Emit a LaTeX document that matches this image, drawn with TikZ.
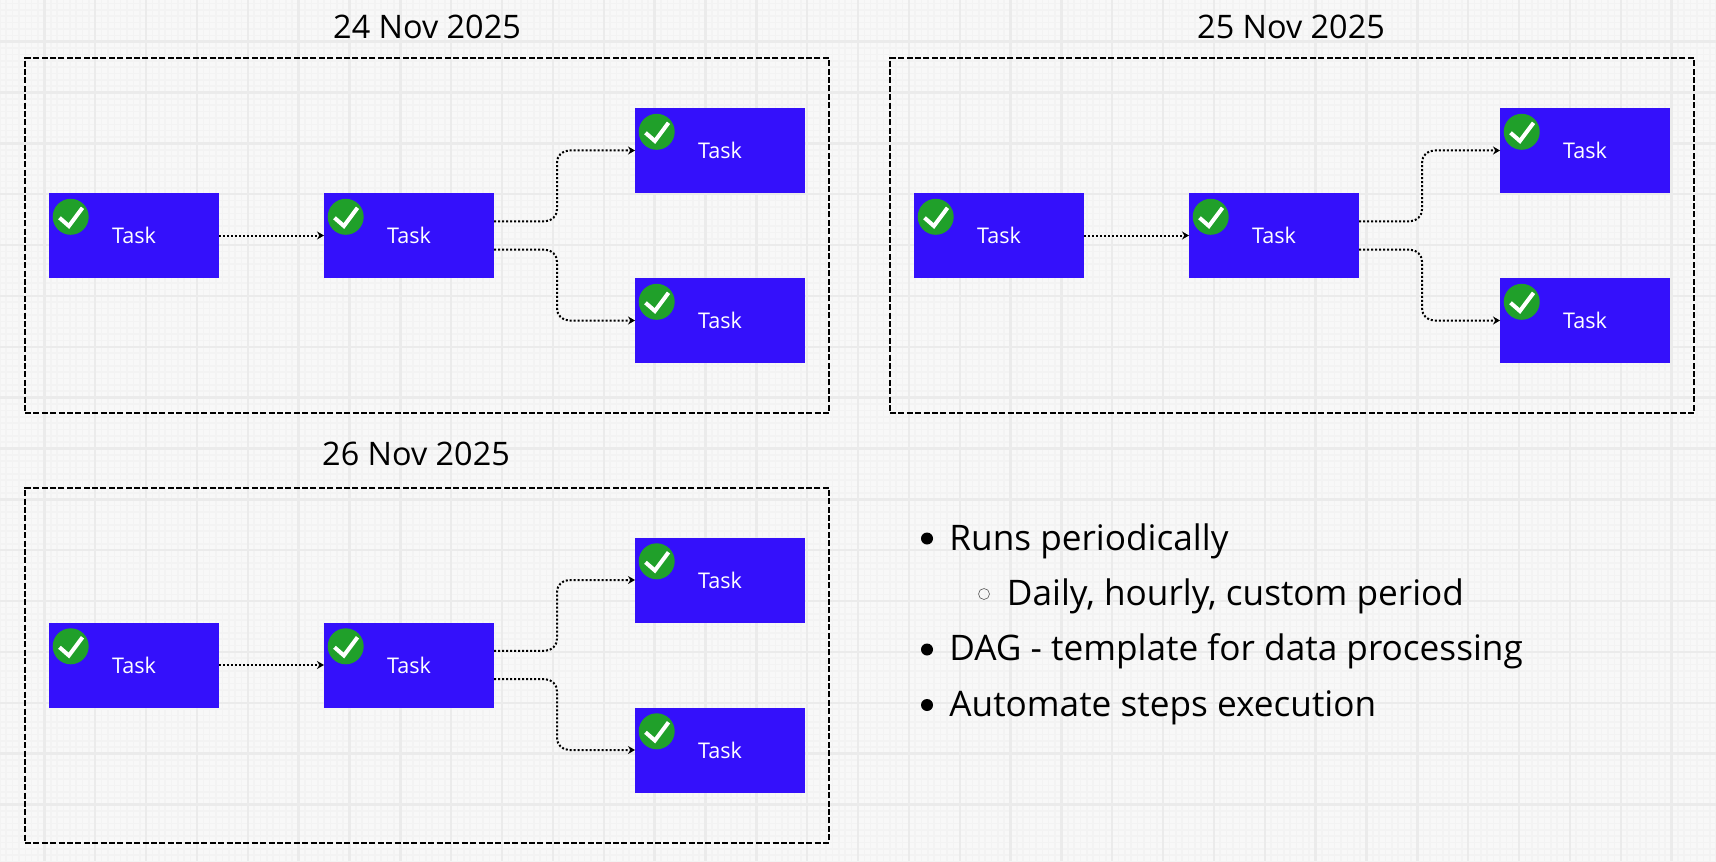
\documentclass[tikz,border=0pt]{standalone}
\usepackage{fontspec}
\setmainfont{Open Sans}
\usetikzlibrary{positioning, arrows.meta}

\definecolor{paper}{HTML}{F8F8F8}
\definecolor{finerule}{HTML}{F3F3F3}
\definecolor{majorrule}{HTML}{EBEBEB}
\definecolor{taskblue}{HTML}{3410FB}
\definecolor{donegreen}{HTML}{20A02A}

\tikzset{
  panel/.style  = {draw, dash pattern=on 3pt off 1.2pt, line width=1pt, minimum width=402pt, minimum height=177.5pt},
  day/.style    = {font=\fontsize{16.2}{18}\selectfont, inner sep=0pt},
  task/.style   = {rectangle, fill=taskblue, text=white, minimum width=85pt, minimum height=42.5pt, inner sep=0pt, outer sep=0pt, font=\fontsize{10.8}{12}\selectfont},
  done/.style   = {circle, fill=donegreen, minimum size=18pt, inner sep=0pt},
  tick/.style   = {draw=white, line width=2pt},
  flow/.style   = {-{Stealth[length=3.5pt, width=4pt]}, line width=1pt, dash pattern=on 1pt off 1pt, rounded corners=6pt},
  point/.style  = {font=\fontsize{17.6}{20}\selectfont, anchor=base west, inner sep=0pt},
  bullet/.style = {circle, fill=black, minimum size=6pt, inner sep=0pt},
  hollow/.style = {circle, draw=black!65, line width=.3pt, minimum size=5.5pt, inner sep=0pt}
}

\begin{document}
\begin{tikzpicture}[x=.5pt, y=-.5pt]
\useasboundingbox (0,0) rectangle (1716,861);

% the squared paper behind everything
\fill[paper] (0,0) rectangle (1716,861);
\begin{scope}
\clip (0,0) rectangle (1716,861);
\foreach \i in {-7,...,269}
  \draw[finerule, line width=.8pt] (44.4+\i*6.356,0) -- (44.4+\i*6.356,861);
\foreach \i in {-7,...,130}
  \draw[finerule, line width=.8pt] (0,41.7+\i*6.356) -- (1716,41.7+\i*6.356);
\foreach \i in {0,...,33}
  \draw[majorrule, line width=1.2pt] (-6.45+\i*50.85,0) -- (-6.45+\i*50.85,861);
\foreach \i in {0,...,16}
  \draw[majorrule, line width=1.2pt] (0,-9.15+\i*50.85) -- (1716,-9.15+\i*50.85);
\end{scope}

% one run of the pipeline per day
\foreach \run/\dx/\dy/\tx/\ty/\date in {a/0/0/427/27/24, b/865/0/1291/27/25, c/0/429.5/416/454/26} {
  \node[day] (title\run) at (\tx,\ty) {\date{} Nov 2025};

  \begin{scope}[shift={(\dx,\dy)}]
    \node[panel] (frame\run) at (427,235.5) {};

    \node[task] (t\run1) at (134,235.5) {Task};
    \node[task, right=52.5pt of t\run1] (t\run2) {Task};
    \node[task, above right=0pt and 70.5pt of t\run2.north east] (t\run3) {Task};
    \node[task, below right=0pt and 70.5pt of t\run2.south east] (t\run4) {Task};

    % the green marks, with their ticks
    \foreach \k in {1,...,4} {
      \node[done] (c\run\k) at ([xshift=10.85pt, yshift=-11.9pt]t\run\k.north west) {};
      \draw[tick] ([xshift=-5.6pt, yshift=-.5pt]c\run\k.center) -- ([xshift=-.9pt, yshift=-4.6pt]c\run\k.center) -- ([xshift=5.9pt, yshift=4.5pt]c\run\k.center);
    }

    \draw[flow] (t\run1) -- (t\run2);
    \draw[flow] ([yshift=7.1pt]t\run2.east) -- ++(63,0) |- (t\run3.west);
    \draw[flow] ([yshift=-7.1pt]t\run2.east) -- ++(63,0) |- (t\run4.west);
  \end{scope}
}

% the notes at the lower right
\node[point] (p1) at (949,550) {Runs periodically};
\node[point] (p2) at (1006.5,605) {Daily, hourly, custom period};
\node[point] (p3) at (949,660.5) {DAG - template for data processing};
\node[point] (p4) at (949,716.5) {Automate steps execution};

\node[bullet] (b1) at (927,538.5) {};
\node[hollow] (b2) at (984,594) {};
\node[bullet] (b3) at (927,649.5) {};
\node[bullet] (b4) at (927,705) {};
\end{tikzpicture}
\end{document}
